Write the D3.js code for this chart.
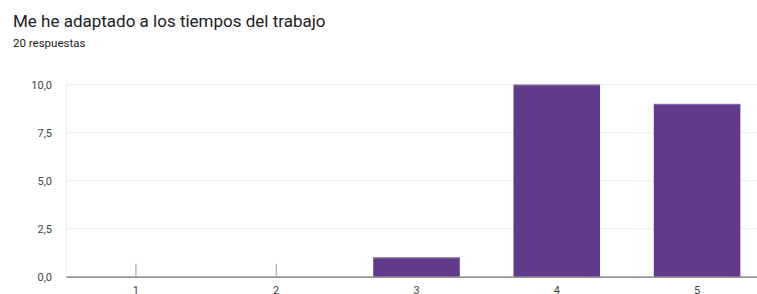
<!DOCTYPE html>
<html>
<head>
<meta charset="utf-8">
<script src="https://cdn.jsdelivr.net/npm/d3@7"></script>
<style>
  body { margin: 0; background: #fff; }
  svg { display: block; }
</style>
</head>
<body>
<div id="chart"></div>
<script>
// data
var categories = ["1", "2", "3", "4", "5"];
var counts = [0, 0, 1, 10, 9];
var yTicks = [0, 2.5, 5, 7.5, 10];

var title = "Me he adaptado a los tiempos del trabajo";
var subtitle = "20 respuestas";

var W = 757, H = 294;
var margin = {top: 84.7, right: -10, bottom: 17.3, left: 66};
var width = W - margin.left - margin.right,
    height = H - margin.top - margin.bottom;

var svg = d3.select("#chart")
  .append("svg")
    .attr("width", W)
    .attr("height", H);

svg.append("text")
  .attr("x", 13)
  .attr("y", 27)
  .attr("font-family", "Roboto, sans-serif")
  .attr("font-size", "17px")
  .attr("fill", "#202124")
  .text(title);

svg.append("text")
  .attr("x", 13)
  .attr("y", 47)
  .attr("font-family", "Roboto, sans-serif")
  .attr("font-size", "11.5px")
  .attr("fill", "#202124")
  .text(subtitle);

var x = d3.scaleBand()
  .domain(categories)
  .range([0, width])
  .paddingInner(0.383)
  .paddingOuter(0.19);

var y = d3.scaleLinear()
  .domain([0, 10])
  .range([height, 0]);

var g = svg.append("g")
  .attr("transform", "translate(" + margin.left + "," + margin.top + ")");

// gridlines
g.selectAll(".grid")
  .data(yTicks.slice(1))
  .enter().append("line")
    .attr("x1", 0)
    .attr("x2", width)
    .attr("y1", function(d) { return y(d); })
    .attr("y2", function(d) { return y(d); })
    .attr("stroke", "#ececec")
    .attr("stroke-width", 1);

g.append("line")
  .attr("x1", 0.5).attr("x2", 0.5)
  .attr("y1", y(10)).attr("y2", y(0))
  .attr("stroke", "#ececec");

// y axis labels
var yAxis = d3.axisLeft(y)
  .tickValues(yTicks)
  .tickSize(0)
  .tickPadding(14)
  .tickFormat(function(d) { return d3.format(".1f")(d).replace(".", ","); });

g.append("g")
  .call(yAxis)
  .call(function(s) { s.select(".domain").remove(); })
  .selectAll("text")
    .attr("font-family", "Roboto, sans-serif")
    .attr("font-size", "11px")
    .attr("fill", "#444");

// bars
g.selectAll(".bar")
  .data(counts)
  .enter().append("rect")
    .attr("x", function(d, i) { return x(categories[i]); })
    .attr("y", function(d) { return y(d); })
    .attr("width", x.bandwidth())
    .attr("height", function(d) { return height - y(d); })
    .attr("fill", "#603a8b");

// light top edge of bars
g.selectAll(".cap")
  .data(counts.filter(function(d) { return d > 0; }))
  .enter().append("line")
    .attr("x1", function(d) { return x(categories[counts.indexOf(d)]); })
    .attr("x2", function(d) { return x(categories[counts.indexOf(d)]) + x.bandwidth(); })
    .attr("y1", function(d) { return y(d) + 0.5; })
    .attr("y2", function(d) { return y(d) + 0.5; })
    .attr("stroke", "#8a6fad")
    .attr("stroke-width", 1);

// zero-value markers
g.selectAll(".zero")
  .data(counts)
  .enter().filter(function(d) { return d === 0; }).append("line")
    .attr("x1", function(d, i) { return x(categories[counts.indexOf(d) + i]) + x.bandwidth() / 2; })
    .attr("x2", function(d, i) { return x(categories[counts.indexOf(d) + i]) + x.bandwidth() / 2; })
    .attr("y1", height - 13)
    .attr("y2", height)
    .attr("stroke", "#999")
    .attr("stroke-width", 1);

// x axis
var xAxis = d3.axisBottom(x).tickSize(0).tickPadding(10);

var xg = g.append("g")
  .attr("transform", "translate(0," + height + ")")
  .call(xAxis);
xg.select(".domain").attr("stroke", "#6e6e6e").attr("stroke-width", 1.2);
xg.selectAll("text")
  .attr("font-family", "Roboto, sans-serif")
  .attr("font-size", "11px")
  .attr("fill", "#444");
</script>
</body>
</html>
